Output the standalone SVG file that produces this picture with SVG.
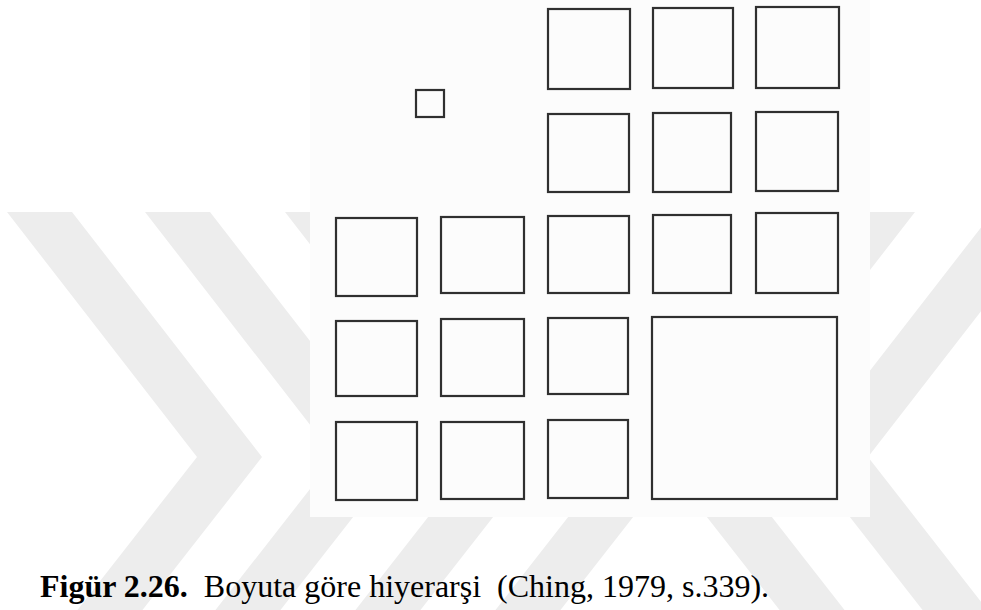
<svg xmlns="http://www.w3.org/2000/svg" width="981" height="610" viewBox="0 0 981 610">
  <defs>
    <style>
      .wm { fill: #ededed; }
      .sq { fill: none; stroke: #303030; stroke-width: 2.2; }
    </style>
    <polygon id="chevR" points="-190,-245 0,0 -125,160 -190,160 -65,0 -255,-245"/>
    <polygon id="chevL" points="190,-245 0,0 125,160 190,160 65,0 255,-245"/>
  </defs>
  <rect x="0" y="0" width="981" height="610" fill="#ffffff"/>
  <g id="watermark" class="wm">
    <use href="#chevR" x="262" y="457"/>
    <use href="#chevR" x="400" y="457"/>
    <use href="#chevR" x="540" y="457"/>
    <use href="#chevR" x="680" y="457"/>
    <use href="#chevL" x="660" y="457"/>
    <use href="#chevL" x="803" y="457"/>
  </g>
  <rect id="figure-bg" x="310" y="0" width="560" height="517" fill="#fcfcfc"/>
  <g id="small-square"><rect class="sq" x="416" y="90" width="28" height="27"/></g>
  <g id="r1c3"><rect class="sq" x="548" y="9" width="82" height="80"/></g>
  <g id="r1c4"><rect class="sq" x="653" y="8" width="80" height="80"/></g>
  <g id="r1c5"><rect class="sq" x="756" y="7" width="83" height="81"/></g>
  <g id="r2c3"><rect class="sq" x="548" y="114" width="81" height="78"/></g>
  <g id="r2c4"><rect class="sq" x="653" y="113" width="78" height="79"/></g>
  <g id="r2c5"><rect class="sq" x="756" y="112" width="82" height="79"/></g>
  <g id="r3c1"><rect class="sq" x="336" y="218" width="81" height="78"/></g>
  <g id="r3c2"><rect class="sq" x="441" y="217" width="83" height="76"/></g>
  <g id="r3c3"><rect class="sq" x="548" y="216" width="81" height="77"/></g>
  <g id="r3c4"><rect class="sq" x="653" y="215" width="78" height="78"/></g>
  <g id="r3c5"><rect class="sq" x="756" y="213" width="82" height="80"/></g>
  <g id="r4c1"><rect class="sq" x="336" y="321" width="81" height="75"/></g>
  <g id="r4c2"><rect class="sq" x="441" y="319" width="83" height="77"/></g>
  <g id="r4c3"><rect class="sq" x="548" y="318" width="80" height="76"/></g>
  <g id="big-square"><rect class="sq" x="652" y="317" width="185" height="182"/></g>
  <g id="r5c1"><rect class="sq" x="336" y="422" width="81" height="78"/></g>
  <g id="r5c2"><rect class="sq" x="441" y="422" width="83" height="77"/></g>
  <g id="r5c3"><rect class="sq" x="548" y="420" width="80" height="78"/></g>
  <g id="caption">
    <text x="40" y="597" font-family="'Liberation Serif', 'Times New Roman', serif" font-size="32" fill="#000000" xml:space="preserve"><tspan font-weight="bold">Figür 2.26.</tspan>  Boyuta göre hiyerarşi  (Ching, 1979, s.339).</text>
  </g>
</svg>
